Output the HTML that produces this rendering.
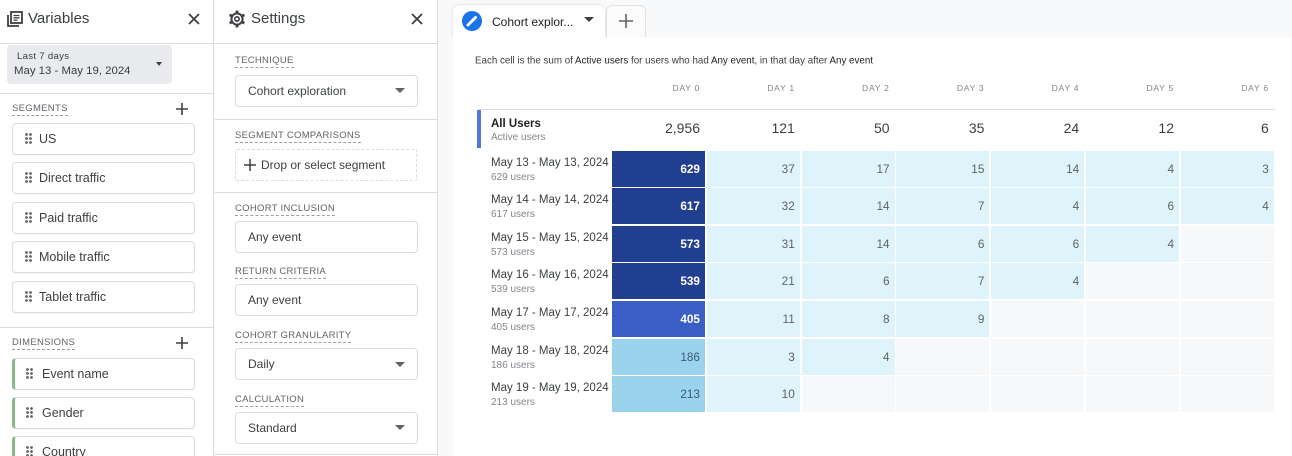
<!DOCTYPE html>
<html><head><meta charset="utf-8">
<style>
*{margin:0;padding:0;box-sizing:border-box}
html,body{width:1292px;height:456px;overflow:hidden}
body{background:#f8f9fa;font-family:"Liberation Sans",Arial,sans-serif;color:#3c4043}
#root{position:relative;width:1292px;height:456px;overflow:hidden;background:#f8f9fa}
.a{position:absolute;white-space:nowrap}
.hr{position:absolute;height:1px;background:#dadce0}
.lbl{position:absolute;font-size:9.5px;color:#5f6368;letter-spacing:.3px;line-height:12px;border-bottom:1px dashed #9aa0a6;white-space:nowrap}
.chip{position:absolute;left:12px;width:183px;height:32px;border:1px solid #dadce0;border-radius:4px;font-size:12.5px;line-height:30px;padding-left:26px;color:#3c4043;background:#fff;box-shadow:0 1px 1px rgba(0,0,0,.04)}
.chip.g{border-left:3px solid #86b98c;padding-left:27px}
.dh{position:absolute;left:12px;top:9px}
.chip.g .dh{left:11px}
.box{position:absolute;left:235px;width:183px;height:32px;border:1px solid #dadce0;border-radius:4px;font-size:12px;line-height:30px;padding-left:12px;color:#3c4043;background:#fff}
.arr{position:absolute;width:0;height:0;border-left:5px solid transparent;border-right:5px solid transparent;border-top:5px solid #5f6368}
.c{position:absolute;width:93px;height:36px;line-height:36px;text-align:right;padding-right:5px;font-size:11.8px}
.d{background:#213f91;color:#fff;font-weight:bold}
.m{background:#3a5ec6;color:#fff;font-weight:bold}
.lb{background:#9bd3ed;color:#3d5a78}
.l{background:#dff4fa;color:#5f6368}
.e{background:#f7f8fa}
.h{position:absolute;top:82px;width:93px;text-align:right;padding-right:5px;font-size:8.6px;letter-spacing:.7px;color:#80868b;line-height:12px}
.tot{position:absolute;top:119px;width:93px;text-align:right;padding-right:5px;font-size:14px;color:#3c4043;line-height:18px}
.rl{position:absolute;left:491px;font-size:11.5px;color:#3c4043;line-height:14px;white-space:nowrap}
.rs{position:absolute;left:491px;font-size:10px;color:#80868b;line-height:12px;white-space:nowrap}
</style></head><body>
<div id="root">

<!-- LEFT PANEL -->
<div class="a" style="left:0;top:0;width:214px;height:456px;background:#fff;border-right:1px solid #dadce0"></div>
<svg class="a" style="left:6px;top:10px" width="18" height="18" viewBox="0 0 18 18">
<path d="M2 5 V16 H13" fill="none" stroke="#3c4043" stroke-width="1.8"/>
<rect x="5" y="2" width="11" height="11" fill="none" stroke="#3c4043" stroke-width="1.8"/>
<path d="M7.5 5.5H13.5M7.5 7.8H13.5M7.5 10.1H11.5" stroke="#3c4043" stroke-width="1.3"/>
</svg>
<div class="a" style="left:28px;top:10px;font-size:15px;line-height:18px;color:#3c4043">Variables</div>
<svg class="a" style="left:188px;top:13px" width="12" height="12"><path d="M1 1L11 11M11 1L1 11" stroke="#3c4043" stroke-width="1.8"/></svg>
<div class="hr" style="left:0;top:43px;width:214px"></div>

<div class="a" style="left:7px;top:45px;width:165px;height:39px;background:#e8eaed;border-radius:4px"></div>
<div class="a" style="left:17px;top:51px;font-size:9.6px;line-height:12px;letter-spacing:.3px;color:#3c4043">Last 7 days</div>
<div class="a" style="left:14px;top:64px;font-size:11.4px;line-height:14px;color:#3c4043">May 13 - May 19, 2024</div>
<div class="arr" style="left:156px;top:62px;border-left-width:3.5px;border-right-width:3.5px;border-top:4px solid #3c4043"></div>
<div class="hr" style="left:0;top:93px;width:214px"></div>

<div class="lbl" style="left:12px;top:103px">SEGMENTS</div>
<svg class="a" style="left:175px;top:102px" width="14" height="14"><path d="M7 1V13M1 7H13" stroke="#3c4043" stroke-width="1.6"/></svg>

<svg width="0" height="0" style="position:absolute"><defs><g id="dots" fill="#5f6368"><circle cx="1.5" cy="1.5" r="1.4"/><circle cx="5.5" cy="1.5" r="1.4"/><circle cx="1.5" cy="5.5" r="1.4"/><circle cx="5.5" cy="5.5" r="1.4"/><circle cx="1.5" cy="9.5" r="1.4"/><circle cx="5.5" cy="9.5" r="1.4"/></g></defs></svg>

<div class="chip" style="top:123px"><svg class="dh" width="7" height="11"><use href="#dots"/></svg>US</div>
<div class="chip" style="top:162px"><svg class="dh" width="7" height="11"><use href="#dots"/></svg>Direct traffic</div>
<div class="chip" style="top:202px"><svg class="dh" width="7" height="11"><use href="#dots"/></svg>Paid traffic</div>
<div class="chip" style="top:241px"><svg class="dh" width="7" height="11"><use href="#dots"/></svg>Mobile traffic</div>
<div class="chip" style="top:281px"><svg class="dh" width="7" height="11"><use href="#dots"/></svg>Tablet traffic</div>
<div class="hr" style="left:0;top:327px;width:214px"></div>

<div class="lbl" style="left:12px;top:337px">DIMENSIONS</div>
<svg class="a" style="left:175px;top:336px" width="14" height="14"><path d="M7 1V13M1 7H13" stroke="#3c4043" stroke-width="1.6"/></svg>
<div class="chip g" style="top:358px"><svg class="dh" width="7" height="11"><use href="#dots"/></svg>Event name</div>
<div class="chip g" style="top:397px"><svg class="dh" width="7" height="11"><use href="#dots"/></svg>Gender</div>
<div class="chip g" style="top:436px"><svg class="dh" width="7" height="11"><use href="#dots"/></svg>Country</div>

<!-- MIDDLE PANEL -->
<div class="a" style="left:215px;top:0;width:223px;height:456px;background:#fff;border-right:1px solid #dadce0"></div>
<svg class="a" style="left:228px;top:10px" width="18" height="18" viewBox="0 0 18 18">
<g fill="#3c4043">
<rect x="7.6" y="0.5" width="2.8" height="4" rx=".6"/>
<rect x="7.6" y="13.5" width="2.8" height="4" rx=".6"/>
<rect x="7.6" y="0.5" width="2.8" height="4" rx=".6" transform="rotate(60 9 9)"/>
<rect x="7.6" y="0.5" width="2.8" height="4" rx=".6" transform="rotate(120 9 9)"/>
<rect x="7.6" y="0.5" width="2.8" height="4" rx=".6" transform="rotate(240 9 9)"/>
<rect x="7.6" y="0.5" width="2.8" height="4" rx=".6" transform="rotate(300 9 9)"/>
</g>
<circle cx="9" cy="9" r="5.6" fill="none" stroke="#3c4043" stroke-width="2"/>
<circle cx="9" cy="9" r="2.2" fill="none" stroke="#3c4043" stroke-width="1.6"/>
</svg>
<div class="a" style="left:251px;top:10px;font-size:15px;line-height:18px;color:#3c4043">Settings</div>
<svg class="a" style="left:411px;top:13px" width="12" height="12"><path d="M1 1L11 11M11 1L1 11" stroke="#3c4043" stroke-width="1.8"/></svg>
<div class="hr" style="left:215px;top:43px;width:222px"></div>

<div class="lbl" style="left:235px;top:55px">TECHNIQUE</div>
<div class="box" style="top:75px">Cohort exploration</div>
<div class="arr" style="left:395px;top:88px"></div>
<div class="hr" style="left:215px;top:119px;width:222px"></div>

<div class="lbl" style="left:235px;top:130px">SEGMENT COMPARISONS</div>
<div class="a" style="left:235px;top:149px;width:182px;height:32px;border:1px dashed #dadce0;border-radius:2px"></div>
<svg class="a" style="left:244px;top:159px" width="12" height="12"><path d="M6 0V12M0 6H12" stroke="#3c4043" stroke-width="1.5"/></svg>
<div class="a" style="left:261px;top:158px;font-size:12px;line-height:14px;color:#3c4043">Drop or select segment</div>
<div class="hr" style="left:215px;top:192px;width:222px"></div>

<div class="lbl" style="left:235px;top:203px">COHORT INCLUSION</div>
<div class="box" style="top:221px">Any event</div>
<div class="lbl" style="left:235px;top:266px">RETURN CRITERIA</div>
<div class="box" style="top:284px">Any event</div>
<div class="lbl" style="left:235px;top:330px">COHORT GRANULARITY</div>
<div class="box" style="top:348px">Daily</div>
<div class="arr" style="left:395px;top:362px"></div>
<div class="lbl" style="left:235px;top:394px">CALCULATION</div>
<div class="box" style="top:412px">Standard</div>
<div class="arr" style="left:395px;top:425px"></div>
<div class="hr" style="left:215px;top:454px;width:222px"></div>

<!-- RIGHT AREA -->
<div class="a" style="left:453px;top:37px;width:839px;height:419px;background:#fff"></div>
<div class="a" style="left:606px;top:5px;width:40px;height:32px;background:#fbfbfb;border:1px solid #e3e3e3;border-bottom:none;border-radius:6px 6px 0 0"></div>
<svg class="a" style="left:619px;top:14px" width="14" height="14"><path d="M7 0V14M0 7H14" stroke="#5f6368" stroke-width="1.6"/></svg>
<div class="a" style="left:453px;top:5px;width:152px;height:33px;background:#fff;border-radius:7px 7px 0 0;box-shadow:0 0 2px rgba(0,0,0,.18)"></div>
<div class="a" style="left:453px;top:36px;width:152px;height:4px;background:#fff"></div>
<svg class="a" style="left:462px;top:11px" width="20" height="20">
<circle cx="10" cy="10" r="10" fill="#1a73e8"/>
<path d="M6 14L13.5 6.5" stroke="#fff" stroke-width="3" stroke-linecap="round"/>
</svg>
<div class="a" style="left:492px;top:15px;font-size:12px;line-height:14px;color:#202124">Cohort explor...</div>
<div class="arr" style="left:584px;top:17px;border-top-color:#3c4043"></div>

<svg class="a" style="left:475px;top:50px" width="420" height="20">
<text x="0" y="13.5" font-family="Liberation Sans, Arial, sans-serif" font-size="10" fill="#3c4043" textLength="398" lengthAdjust="spacingAndGlyphs">Each cell is the sum of <tspan fill="#202124">Active users</tspan> for users who had <tspan fill="#202124">Any event</tspan>, in that day after <tspan fill="#202124">Any event</tspan></text>
</svg>

<!-- headers -->
<div class="h" style="left:612px">DAY 0</div>
<div class="h" style="left:706.8px">DAY 1</div>
<div class="h" style="left:801.6px">DAY 2</div>
<div class="h" style="left:896.4px">DAY 3</div>
<div class="h" style="left:991.2px">DAY 4</div>
<div class="h" style="left:1086px">DAY 5</div>
<div class="h" style="left:1180.8px">DAY 6</div>
<div class="hr" style="left:478px;top:109px;width:797px"></div>

<div class="a" style="left:477px;top:110px;width:4px;height:38px;background:#4f78d8"></div>
<div class="a" style="left:491px;top:117px;font-size:11.5px;font-weight:bold;line-height:14px;color:#202124">All Users</div>
<div class="a" style="left:491px;top:132px;font-size:10px;line-height:12px;color:#80868b">Active users</div>
<div class="tot" style="left:612px">2,956</div>
<div class="tot" style="left:706.8px">121</div>
<div class="tot" style="left:801.6px">50</div>
<div class="tot" style="left:896.4px">35</div>
<div class="tot" style="left:991.2px">24</div>
<div class="tot" style="left:1086px">12</div>
<div class="tot" style="left:1180.8px">6</div>

<!-- row labels -->
<div class="rl" style="top:156px">May 13 - May 13, 2024</div><div class="rs" style="top:172px">629 users</div>
<div class="rl" style="top:193px">May 14 - May 14, 2024</div><div class="rs" style="top:209px">617 users</div>
<div class="rl" style="top:231px">May 15 - May 15, 2024</div><div class="rs" style="top:247px">573 users</div>
<div class="rl" style="top:268px">May 16 - May 16, 2024</div><div class="rs" style="top:284px">539 users</div>
<div class="rl" style="top:306px">May 17 - May 17, 2024</div><div class="rs" style="top:322px">405 users</div>
<div class="rl" style="top:344px">May 18 - May 18, 2024</div><div class="rs" style="top:360px">186 users</div>
<div class="rl" style="top:381px">May 19 - May 19, 2024</div><div class="rs" style="top:397px">213 users</div>

<!-- row 0 -->
<div class="c d" style="left:612px;top:151px">629</div>
<div class="c l" style="left:706.8px;top:151px">37</div>
<div class="c l" style="left:801.6px;top:151px">17</div>
<div class="c l" style="left:896.4px;top:151px">15</div>
<div class="c l" style="left:991.2px;top:151px">14</div>
<div class="c l" style="left:1086px;top:151px">4</div>
<div class="c l" style="left:1180.8px;top:151px">3</div>
<!-- row 1 -->
<div class="c d" style="left:612px;top:188px">617</div>
<div class="c l" style="left:706.8px;top:188px">32</div>
<div class="c l" style="left:801.6px;top:188px">14</div>
<div class="c l" style="left:896.4px;top:188px">7</div>
<div class="c l" style="left:991.2px;top:188px">4</div>
<div class="c l" style="left:1086px;top:188px">6</div>
<div class="c l" style="left:1180.8px;top:188px">4</div>
<!-- row 2 -->
<div class="c d" style="left:612px;top:226px">573</div>
<div class="c l" style="left:706.8px;top:226px">31</div>
<div class="c l" style="left:801.6px;top:226px">14</div>
<div class="c l" style="left:896.4px;top:226px">6</div>
<div class="c l" style="left:991.2px;top:226px">6</div>
<div class="c l" style="left:1086px;top:226px">4</div>
<div class="c e" style="left:1180.8px;top:226px"></div>
<!-- row 3 -->
<div class="c d" style="left:612px;top:263px">539</div>
<div class="c l" style="left:706.8px;top:263px">21</div>
<div class="c l" style="left:801.6px;top:263px">6</div>
<div class="c l" style="left:896.4px;top:263px">7</div>
<div class="c l" style="left:991.2px;top:263px">4</div>
<div class="c e" style="left:1086px;top:263px"></div>
<div class="c e" style="left:1180.8px;top:263px"></div>
<!-- row 4 -->
<div class="c m" style="left:612px;top:301px">405</div>
<div class="c l" style="left:706.8px;top:301px">11</div>
<div class="c l" style="left:801.6px;top:301px">8</div>
<div class="c l" style="left:896.4px;top:301px">9</div>
<div class="c e" style="left:991.2px;top:301px"></div>
<div class="c e" style="left:1086px;top:301px"></div>
<div class="c e" style="left:1180.8px;top:301px"></div>
<!-- row 5 -->
<div class="c lb" style="left:612px;top:339px">186</div>
<div class="c l" style="left:706.8px;top:339px">3</div>
<div class="c l" style="left:801.6px;top:339px">4</div>
<div class="c e" style="left:896.4px;top:339px"></div>
<div class="c e" style="left:991.2px;top:339px"></div>
<div class="c e" style="left:1086px;top:339px"></div>
<div class="c e" style="left:1180.8px;top:339px"></div>
<!-- row 6 -->
<div class="c lb" style="left:612px;top:376px">213</div>
<div class="c l" style="left:706.8px;top:376px">10</div>
<div class="c e" style="left:801.6px;top:376px"></div>
<div class="c e" style="left:896.4px;top:376px"></div>
<div class="c e" style="left:991.2px;top:376px"></div>
<div class="c e" style="left:1086px;top:376px"></div>
<div class="c e" style="left:1180.8px;top:376px"></div>

</div>
</body></html>
